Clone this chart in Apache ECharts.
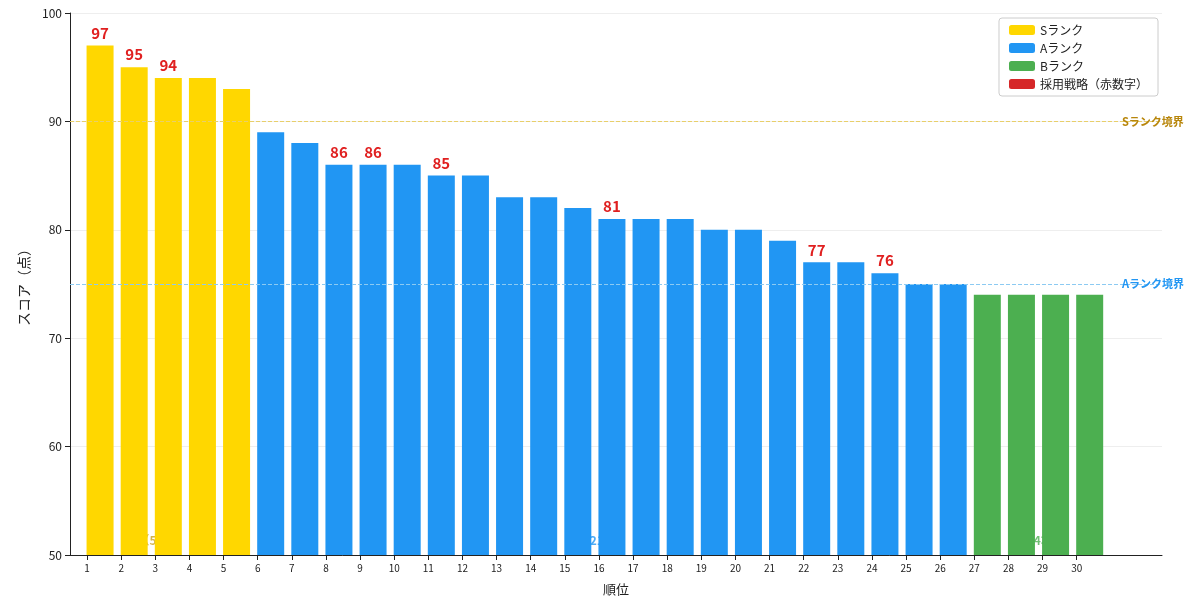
<!DOCTYPE html>
<html><head><meta charset="utf-8">
<script src="https://cdn.jsdelivr.net/npm/echarts@6/dist/echarts.min.js"></script>
<style>html,body{margin:0;padding:0;background:#fff}#c{width:1200px;height:601px}</style>
</head><body><div id="c"></div>
<script>
var ranks = [1,2,3,4,5,6,7,8,9,10,11,12,13,14,15,16,17,18,19,20,21,22,23,24,25,26,27,28,29,30];
var scores = [97,95,94,94,93,89,88,86,86,86,85,85,83,83,82,81,81,81,80,80,79,77,77,76,75,75,74,74,74,74];
var rankGroup = ['S','S','S','S','S','A','A','A','A','A','A','A','A','A','A','A','A','A','A','A','A','A','A','A','A','A','B','B','B','B'];
var adopted = [1,2,3,8,9,11,16,22,24];
var groupLabels = [['S（5本）',3,'#c8a020'],['A（21本）',16,'#2196f3'],['B（4本）',28.9,'#4caf50']];
var font = '"Noto Sans CJK JP", sans-serif';

function seriesData(g){
  var out = [];
  for (var i = 0; i < ranks.length; i++) {
    if (rankGroup[i] !== g) continue;
    var item = {value: [ranks[i], scores[i]]};
    if (adopted.indexOf(ranks[i]) >= 0) {
      item.label = {show: true, position: 'top', color: '#e02020', fontWeight: 'bold', fontSize: 15, fontFamily: font, formatter: String(scores[i])};
    }
    out.push(item);
  }
  return out;
}
function bar(name, g, color, extra){
  var s = {name: name, type: 'bar', barWidth: 27, barGap: '-100%', z: 3, itemStyle: {color: color}, data: seriesData(g)};
  for (var k in extra) s[k] = extra[k];
  return s;
}
var chart = echarts.init(document.getElementById('c'));
chart.setOption({
  animation: false,
  textStyle: {fontFamily: font},
  grid: {left: 70, right: 38, top: 13, bottom: 46},
  legend: {
    right: 42, top: 18, orient: 'vertical', itemWidth: 26, itemHeight: 10, itemGap: 6,
    backgroundColor: '#fff', borderColor: '#ccc', borderWidth: 1, borderRadius: 3, padding: [6, 10],
    textStyle: {fontSize: 12, color: '#222'},
    data: ['Sランク','Aランク','Bランク','採用戦略（赤数字）']
  },
  xAxis: {
    type: 'value', min: 0.5, max: 32.5, name: '順位', nameLocation: 'middle', nameGap: 28,
    nameTextStyle: {fontSize: 13, color: '#222'},
    axisLine: {lineStyle: {color: '#222'}}, splitLine: {show: false},
    axisTick: {customValues: ranks, lineStyle: {color: '#222'}},
    axisLabel: {customValues: ranks, fontSize: 10, color: '#222'}
  },
  yAxis: {
    type: 'value', min: 50, max: 100, interval: 10, name: 'スコア（点）', nameLocation: 'middle', nameGap: 38,
    nameTextStyle: {fontSize: 14, color: '#222'},
    axisLine: {show: true, lineStyle: {color: '#222'}}, axisTick: {show: true},
    axisLabel: {fontSize: 12, color: '#222'},
    splitLine: {lineStyle: {color: '#eee'}}
  },
  series: [
    {type: 'scatter', symbolSize: 0, z: 1, silent: true,
     data: groupLabels.map(function(g){return {value: [g[1], 51.3], label: {show: true, position: 'inside', formatter: g[0], color: g[2], fontSize: 12, fontWeight: 'bold'}};})},
    bar('Sランク', 'S', '#ffd700', {markLine: {symbol: 'none', silent: true,
      data: [{yAxis: 90, lineStyle: {color: '#e8cf6a', type: 'dashed', width: 1}, label: {position: 'end', formatter: 'Sランク境界', color: '#b8860b', fontWeight: 'bold', fontSize: 11, distance: -40}}]}}),
    bar('Aランク', 'A', '#2196f3', {markLine: {symbol: 'none', silent: true,
      data: [{yAxis: 75, lineStyle: {color: '#8ccaf2', type: 'dashed', width: 1}, label: {position: 'end', formatter: 'Aランク境界', color: '#2196f3', fontWeight: 'bold', fontSize: 11, distance: -40}}]}}),
    bar('Bランク', 'B', '#4caf50', {}),
    {name: '採用戦略（赤数字）', type: 'bar', itemStyle: {color: '#d62728'}, data: []}
  ]
});
</script></body></html>
